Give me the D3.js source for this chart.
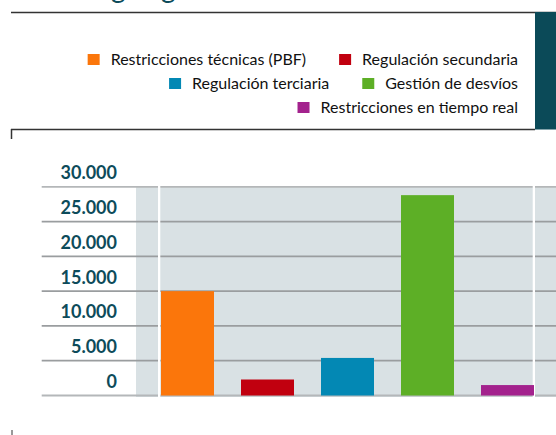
<!DOCTYPE html>
<html>
<head>
<meta charset="utf-8">
<script src="https://cdn.jsdelivr.net/npm/d3@7"></script>
<style>
  body { margin: 0; background: #fff; }
  svg { display: block; }
</style>
</head>
<body>
<svg id="chart" width="556" height="435"></svg>
<script>
// data
var categories = ["Restricciones técnicas (PBF)", "Regulación secundaria", "Regulación terciaria", "Gestión de desvíos", "Restricciones en tiempo real"];
var values = [15000, 2300, 5400, 28800, 1500];
var colors = ["#fb760b", "#c1000f", "#0388b4", "#5daf26", "#a3228d"];
var tickValues = [0, 5000, 10000, 15000, 20000, 25000, 30000];
// legend rows, right aligned
var legendRows = [[0, 1], [2, 3], [4]];

var teal = "#0d4b5a";
var svg = d3.select("#chart");

var es = d3.formatLocale({decimal: ",", thousands: ".", grouping: [3], currency: ["", " €"]});
var fmt = es.format(",.0f");

var y = d3.scaleLinear().domain([0, 30000]).range([395.5, 186.8]);
var x = d3.scaleBand().domain(categories)
	.range([147.5, 547.5])
	.paddingInner(0.3375)
	.paddingOuter(0.16875);

//title descenders cut at the top (the title sits above the picture)
svg.append("text")
	.attr("x", 111).attr("y", -2)
	.attr("fill", teal)
	.style("font", "28px Lato")
	.text("g");
svg.append("text")
	.attr("x", 161).attr("y", -2)
	.attr("fill", teal)
	.style("font", "28px Lato")
	.text("g");

//frame lines
svg.append("line").attr("x1", 11).attr("x2", 556).attr("y1", 12.5).attr("y2", 12.5)
	.attr("stroke", "#333").attr("stroke-width", 1.5);
svg.append("rect").attr("x", 535).attr("y", 12).attr("width", 21).attr("height", 117.5)
	.attr("fill", "#0b4a58");
svg.append("line").attr("x1", 11).attr("x2", 535).attr("y1", 129.5).attr("y2", 129.5)
	.attr("stroke", "#333").attr("stroke-width", 1.5);
svg.append("line").attr("x1", 11.5).attr("x2", 11.5).attr("y1", 129).attr("y2", 139)
	.attr("stroke", "#333").attr("stroke-width", 1.5);
svg.append("line").attr("x1", 12).attr("x2", 12).attr("y1", 430).attr("y2", 435)
	.attr("stroke", "#777").attr("stroke-width", 1.5);

//legend
var legend = svg.append("g").attr("class", "legend");
legendRows.forEach(function (row, r) {
	var right = 518;
	var baseY = 65 + r * 24;
	for (var k = row.length - 1; k >= 0; k--) {
		var i = row[k];
		var t = legend.append("text")
			.attr("x", right).attr("y", baseY)
			.attr("text-anchor", "end")
			.attr("fill", "#111")
			.style("font", "16px Lato")
			.text(categories[i]);
		var w = t.node().getComputedTextLength();
		legend.append("rect")
			.attr("x", right - w - 11 - 12)
			.attr("y", baseY - 11)
			.attr("width", 12).attr("height", 11)
			.attr("fill", colors[i]);
		right = right - w - 11 - 12 - 33;
	}
});

//plot background
svg.append("rect")
	.attr("x", 136).attr("y", y(30000) - 0.5)
	.attr("width", 420).attr("height", y(0) - y(30000) + 2)
	.attr("fill", "#d9e1e4");

//gridlines
svg.append("g").selectAll("line")
	.data(tickValues)
	.join("line")
	.attr("x1", 41.7).attr("x2", 556)
	.attr("y1", function (d) { return y(d); })
	.attr("y2", function (d) { return y(d); })
	.attr("stroke", function (d) { return (d == 0 || d == 30000) ? "#b4b7b9" : "#9a9d9f"; })
	.attr("stroke-width", 1.8);

//white separators
svg.append("rect").attr("x", 158).attr("y", y(30000) - 1).attr("width", 2.3).attr("height", y(0) - y(30000) + 3).attr("fill", "#fff");
svg.append("rect").attr("x", 532.7).attr("y", y(30000) - 1).attr("width", 2.3).attr("height", y(0) - y(30000) + 3).attr("fill", "#fff");

//bars
svg.append("g").selectAll("rect")
	.data(values)
	.join("rect")
	.attr("x", function (d, i) { return x(categories[i]); })
	.attr("width", x.bandwidth())
	.attr("y", function (d) { return y(d); })
	.attr("height", function (d) { return y(0) - y(d); })
	.attr("fill", function (d, i) { return colors[i]; });

//y labels
var yAxis = d3.axisLeft(y)
	.tickValues(tickValues)
	.tickSize(0)
	.tickPadding(0)
	.tickFormat(fmt);

var ax = svg.append("g")
	.attr("transform", "translate(117,0)")
	.call(yAxis);
ax.select(".domain").remove();
ax.selectAll("text")
	.attr("dy", "-8px")
	.attr("fill", teal)
	.style("font", "bold 18px Lato");
</script>
</body>
</html>
